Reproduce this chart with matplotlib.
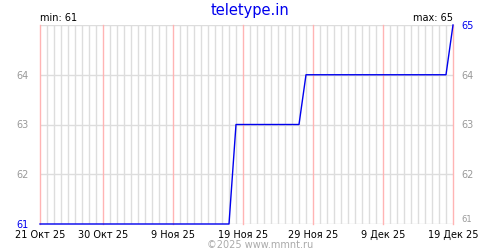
import matplotlib
matplotlib.use("Agg")
import matplotlib.pyplot as plt
import matplotlib.dates as mdates
import numpy as np
import datetime as dt

# Data (change points of the daily series)
dates = ["2025-10-21", "2025-11-17", "2025-11-18", "2025-11-27", "2025-11-28", "2025-12-18", "2025-12-19"]
values = [61, 61, 63, 63, 64, 64, 65]

tick_dates = ["2025-10-21", "2025-10-30", "2025-11-09", "2025-11-19", "2025-11-29", "2025-12-09", "2025-12-19"]
tick_labels = ["21 Окт 25", "30 Окт 25", "9 Ноя 25", "19 Ноя 25", "29 Ноя 25", "9 Дек 25", "19 Дек 25"]
y_ticks_left = [61, 62, 63, 64]
y_ticks_right = [61, 62, 63, 64, 65]
title = "teletype.in"
footer = "©2025 www.mmnt.ru"
min_val = min(values)
max_val = max(values)

to_num = lambda s: mdates.date2num(dt.datetime.strptime(s, "%Y-%m-%d"))
x = [to_num(d) for d in dates]
xt = [to_num(d) for d in tick_dates]
x0, x1 = xt[0], xt[-1]

fig = plt.figure(figsize=(5, 2.5), dpi=100)
ax = fig.add_axes([40/500, 1-224/250, 413/500, 199/250])
ax.set_xlim(x0, x1)
ax.set_ylim(61, 65)

# daily gray grid
for d in np.arange(x0, x1 + 1):
    if d not in xt:
        ax.axvline(d, color="#dddddd", lw=1, zorder=0)
for d in xt:
    ax.axvline(d, color="#ffb4b4", lw=1, zorder=1, clip_on=False)
for yv in y_ticks_right:
    ax.axhline(yv, color="#dddddd", lw=1, zorder=0)

ax.plot(x, values, color="#0000ee", lw=1, zorder=3, clip_on=False)

for s in ax.spines.values():
    s.set_visible(False)

ax.set_xticks(xt)
ax.set_xticklabels(tick_labels, fontsize=7, family="DejaVu Sans")
ax.tick_params(axis="x", length=0, pad=4)

ax.set_yticks(y_ticks_left)
ax.set_yticklabels([str(v) for v in y_ticks_left], fontsize=7)
ax.tick_params(axis="y", length=0, pad=8)
for lab, v in zip(ax.get_yticklabels(), y_ticks_left):
    lab.set_color("#0000ee" if v == min_val else "#999999")

ax2 = ax.twinx()
ax2.set_ylim(61, 65)
ax2.set_yticks(y_ticks_right)
ax2.set_yticklabels([str(v) for v in y_ticks_right], fontsize=7)
ax2.tick_params(axis="y", length=0, pad=6)
for lab, v in zip(ax2.get_yticklabels(), y_ticks_right):
    lab.set_color("#0000ee" if v == max_val else "#999999")
    if v == min_val:
        lab.set_fontsize(6)
        lab.set_va("bottom")
for s in ax2.spines.values():
    s.set_visible(False)

ax.text(0, 1.01, f"min: {min_val}", transform=ax.transAxes, ha="left", va="bottom", fontsize=7, color="black")
ax.text(1, 1.01, f"max: {max_val}", transform=ax.transAxes, ha="right", va="bottom", fontsize=7, color="black")

fig.text(0.5, 1-10/250, title, ha="center", va="center", fontsize=10.5, color="#0000ee")
fig.text(0.52, 1-245/250, footer, ha="center", va="center", fontsize=7, color="#aaaaaa")

fig.savefig("out.png", dpi=100)
